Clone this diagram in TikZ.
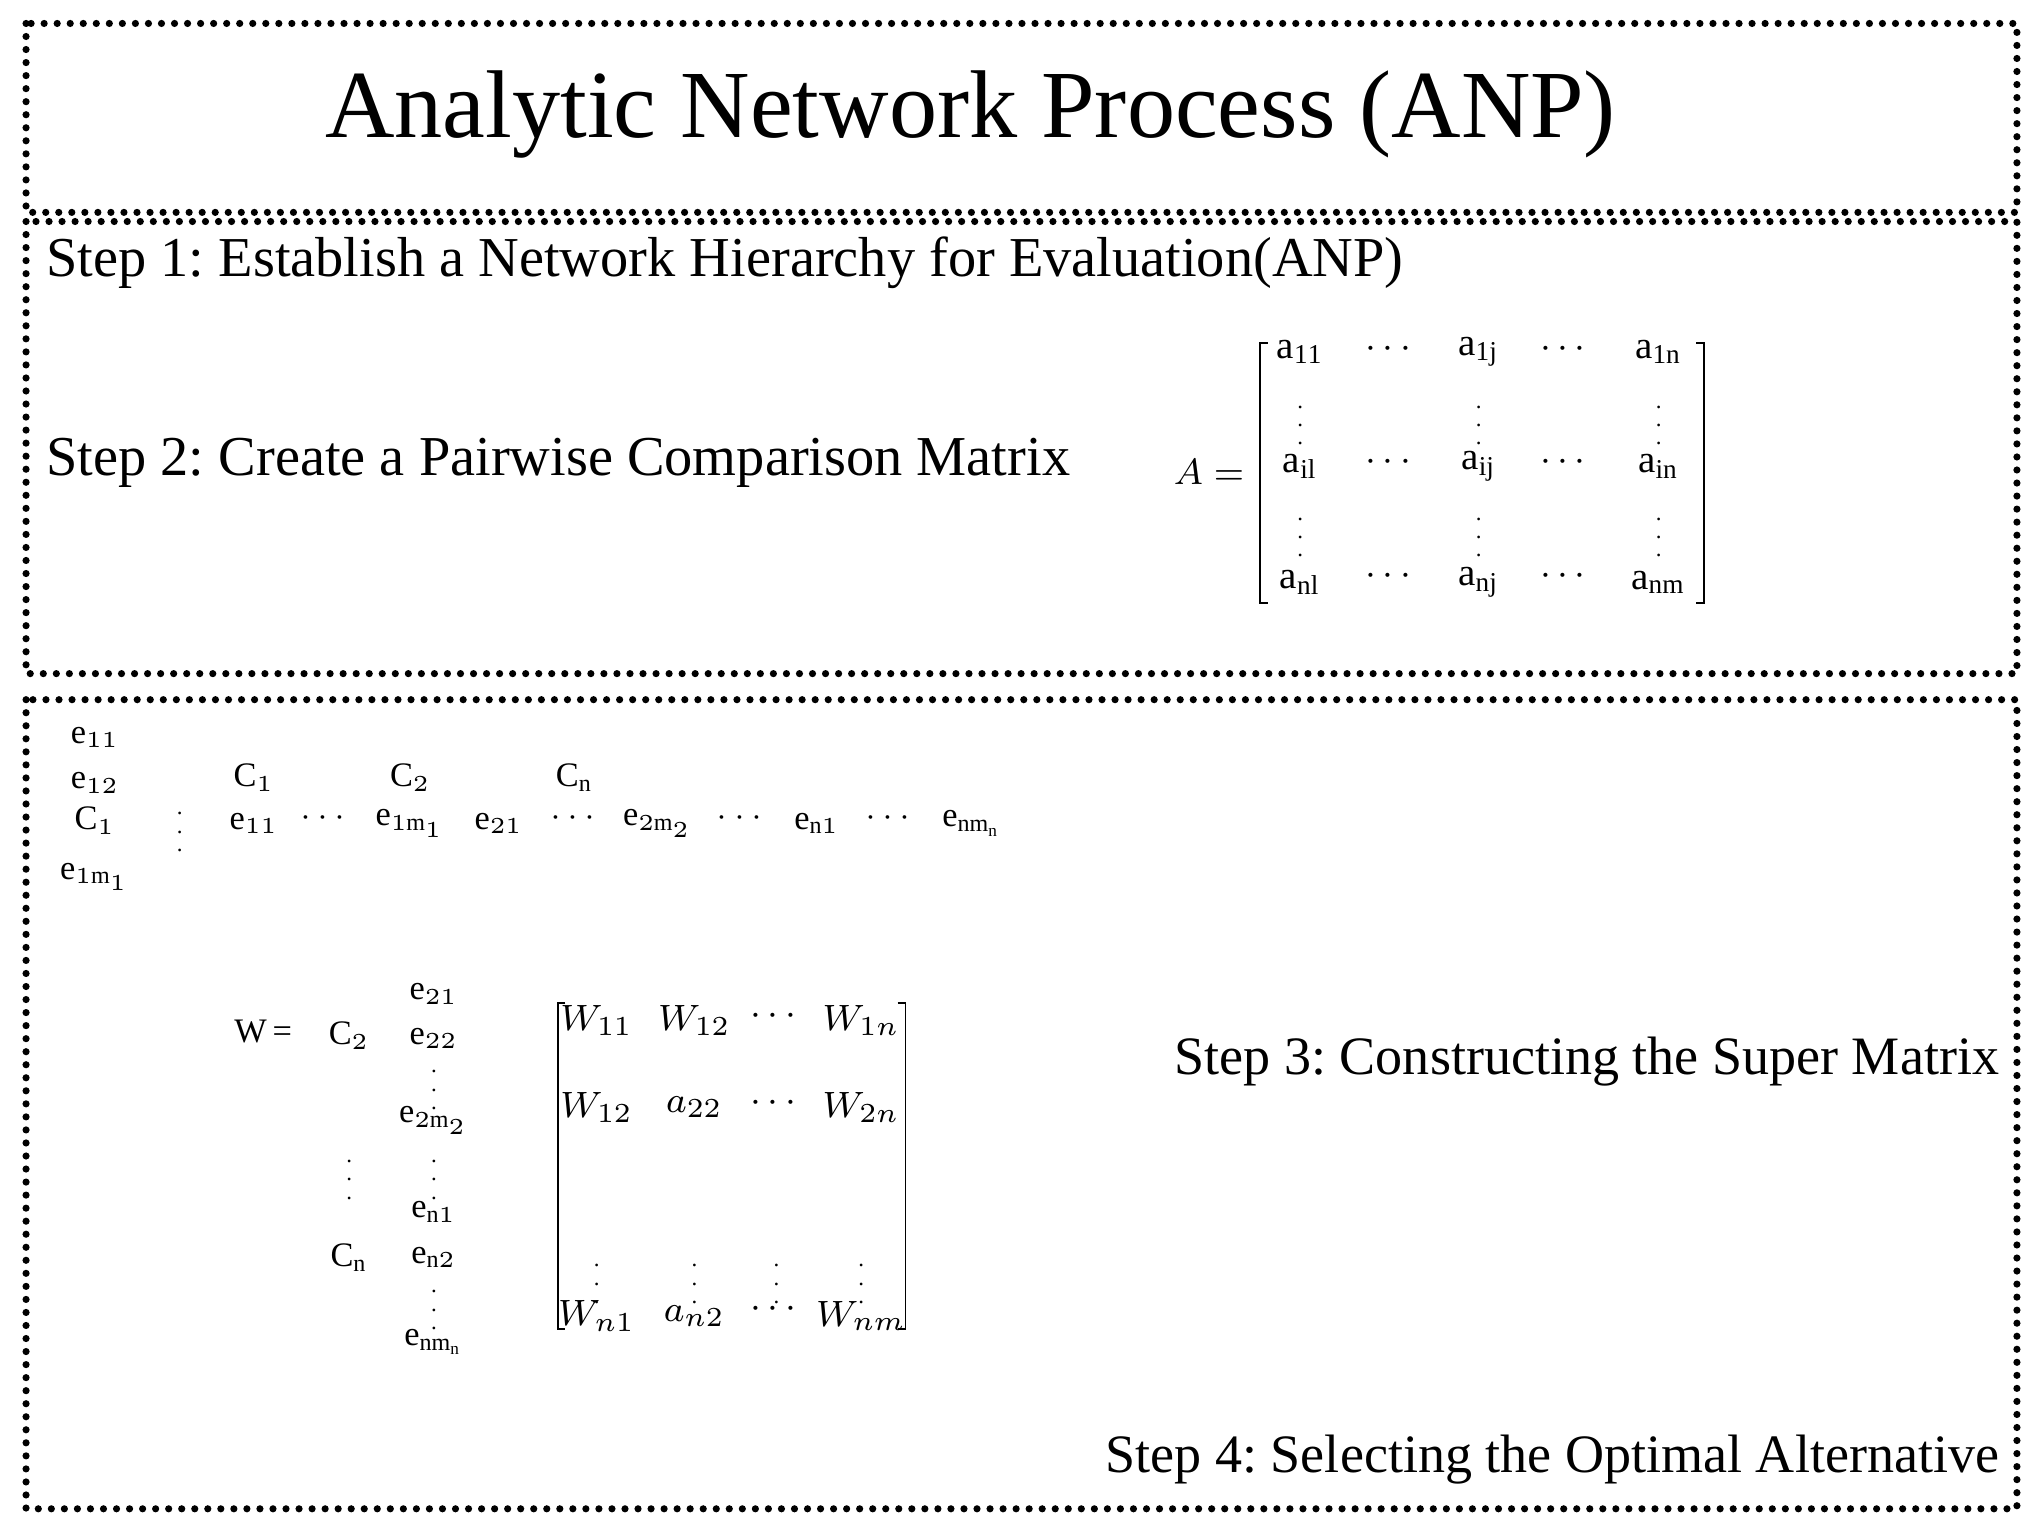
\documentclass[tikz,border=0pt]{standalone}
\usepackage{amsmath}
\usepackage{fontspec}
\setmainfont{Liberation Serif}
\usepackage{tikz}
\frenchspacing

\tikzset{
  dotbox/.style={line width=0.055cm, line cap=round, dash pattern=on 0pt off 0.1cm},
  titletxt/.style={font=\fontsize{21}{25}\selectfont},
  steptxt/.style={font=\fontsize{12.3}{15}\selectfont, inner sep=0pt},
  ent/.style={font=\fontsize{8.5}{10}\selectfont, inner sep=0pt},
  sm/.style={font=\fontsize{7.5}{9}\selectfont, inner sep=0pt},
  vd/.style={font=\fontsize{5}{6}\selectfont, inner sep=0pt},
  brk/.style={line width=0.4pt}
}

\begin{document}
\begin{tikzpicture}[x=0.01cm, y=-0.01cm]
    \useasboundingbox (0,0) rectangle (1568,1181);
    % frames
    \draw[dotbox] (20,18) rectangle (1548,163);
    \draw[dotbox] (20,170) rectangle (1548,517);
    \draw[dotbox] (20,537) rectangle (1548,1158);
    \node[titletxt] (title) at (745,88) {Analytic Network Process (ANP)};
    \node[steptxt, anchor=west] (s1) at (35,202) {Step 1: Establish a Network Hierarchy for Evaluation(ANP)};
    \node[steptxt, anchor=west] (s2) at (35,355) {Step 2: Create a Pairwise Comparison Matrix};
    \node[steptxt, anchor=east, font=\fontsize{11.8}{14}\selectfont] (s3) at (1535,815) {Step 3: Constructing the Super Matrix};
    \node[steptxt, anchor=east, font=\fontsize{11.8}{14}\selectfont] (s4) at (1535,1120) {Step 4: Selecting the Optimal Alternative};
    % matrix A
    \node[ent] (Aeq) at (928,362) {$A=$};
    \foreach \x/\r/\t in {998/270/{\mathrm{a_{11}}}, 1068/268/{\cdots}, 1135/270/{\mathrm{a_{1j}}}, 1202/268/{\cdots}, 1273/270/{\mathrm{a_{1n}}},
        998/358/{\mathrm{a_{il}}}, 1068/355/{\cdots}, 1135/358/{\mathrm{a_{ij}}}, 1202/355/{\cdots}, 1273/358/{\mathrm{a_{in}}},
        998/447/{\mathrm{a_{nl}}}, 1068/442/{\cdots}, 1135/447/{\mathrm{a_{nj}}}, 1202/442/{\cdots}, 1273/447/{\mathrm{a_{nm}}}}
      \node[ent] at (\x,\r) {$\t$};
    \foreach \x/\r in {998/316, 1135/316, 1273/316, 998/402, 1135/402, 1273/402}
      \node[vd] at (\x,\r) {$\vdots$};
    \draw[brk] (973,263) -- (967,263) -- (967,463) -- (973,463);
    \draw[brk] (1302,263) -- (1308,263) -- (1308,463) -- (1302,463);
    % super matrix headers
    \foreach \x/\r/\t in {73/566/{\mathrm{e}_{11}}, 73/601/{\mathrm{e}_{12}}, 73/630/{\mathrm{C}_{1}}, 73/673/{\mathrm{e}_{1\mathrm{m}_1}},
        195/597/{\mathrm{C}_{1}}, 315/597/{\mathrm{C}_{2}}, 441/597/{\mathrm{C}_{\mathrm{n}}},
        195/632/{\mathrm{e}_{11}}, 250/628/{\cdots}, 315/632/{\mathrm{e}_{1\mathrm{m}_1}}, 383/632/{\mathrm{e}_{21}},
        442/628/{\cdots}, 505/632/{\mathrm{e}_{2\mathrm{m}_2}}, 570/628/{\cdots}, 627/632/{\mathrm{e}_{\mathrm{n}1}}, 684/628/{\cdots}, 746/632/{\mathrm{e}_{\mathrm{nm}_\mathrm{n}}},
        268/795/{\mathrm{C}_{2}}, 333/763/{\mathrm{e}_{21}}, 333/797/{\mathrm{e}_{22}}, 333/860/{\mathrm{e}_{2\mathrm{m}_2}},
        333/930/{\mathrm{e}_{\mathrm{n}1}}, 268/965/{\mathrm{C}_{\mathrm{n}}}, 333/965/{\mathrm{e}_{\mathrm{n}2}},
        333/1030/{\mathrm{e}_{\mathrm{nm}_\mathrm{n}}}}
      \node[sm] at (\x,\r) {$\t$};
    \foreach \x/\r in {138/628, 333/826, 268/895, 333/895, 333/995}
      \node[vd] at (\x,\r) {$\vdots$};
    \node[sm] (Weq) at (202,792) {W\,=};
    % matrix W
    \foreach \x/\r/\t in {458/783/{W_{11}}, 533/783/{W_{12}}, 596/780/{\cdots}, 661/783/{W_{1n}},
        458/850/{W_{12}}, 533/850/{a_{22}}, 596/847/{\cdots}, 661/850/{W_{2n}},
        458/1010/{W_{n1}}, 533/1010/{a_{n2}}, 596/1005/{\cdots}, 661/1010/{W_{nm}}}
      \node[ent] at (\x,\r) {$\t$};
    \foreach \x in {458, 533, 596, 661}
      \node[vd] at (\x,975) {$\vdots$};
    \draw[brk] (434,770) -- (428,770) -- (428,1020) -- (434,1020);
    \draw[brk] (689,770) -- (695,770) -- (695,1020) -- (689,1020);
\end{tikzpicture}
\end{document}
